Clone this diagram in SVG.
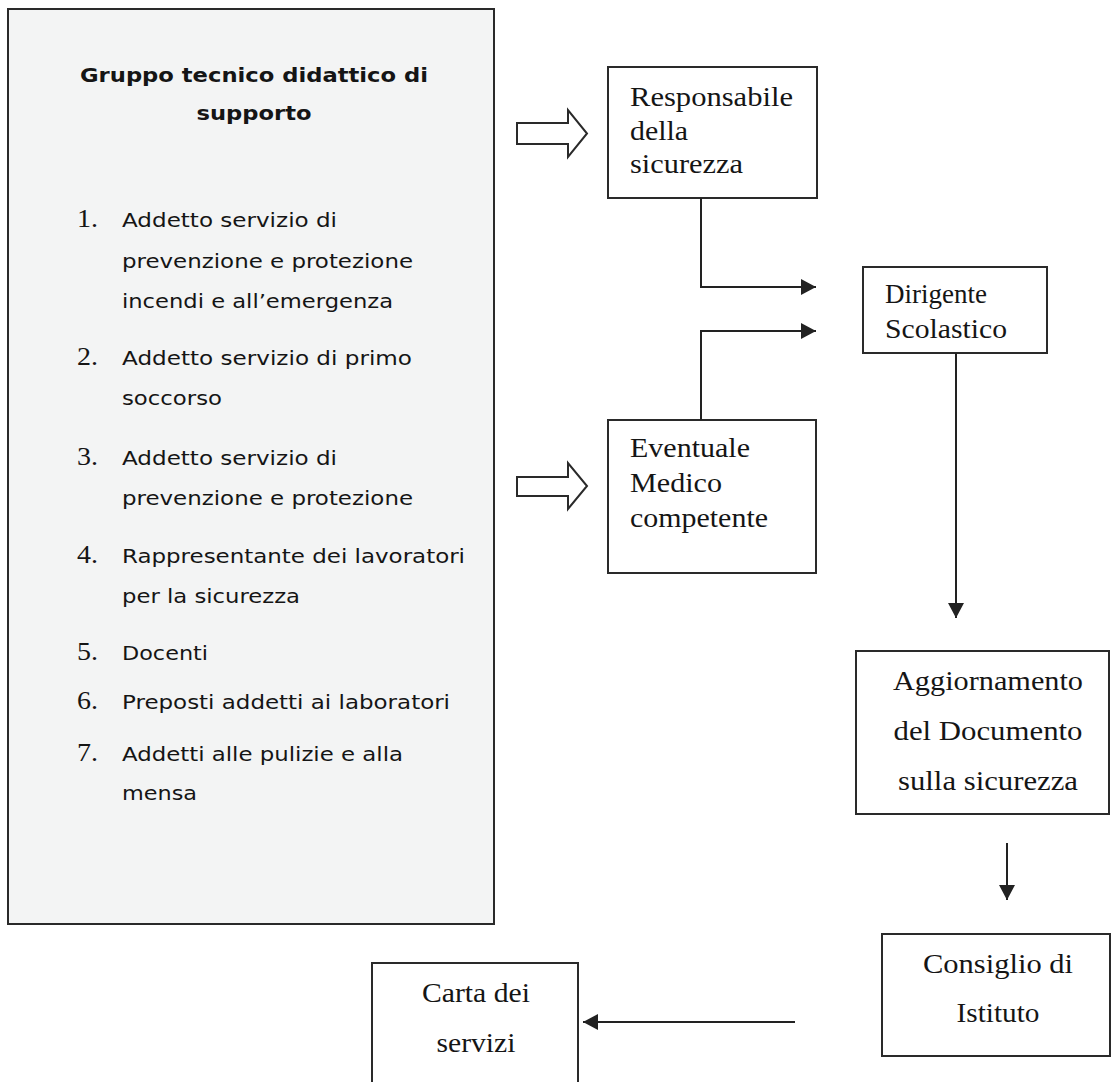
<svg xmlns="http://www.w3.org/2000/svg" width="1111" height="1082" viewBox="0 0 1111 1082">
<style>
.box{fill:#ffffff;stroke:#2a2a2a;stroke-width:2}
.panel{fill:#f3f4f4;stroke:#2a2a2a;stroke-width:2}
.sans{font-family:"DejaVu Sans","Liberation Sans",sans-serif;font-size:20px;fill:#151515}
.bold{font-family:"DejaVu Sans","Liberation Sans",sans-serif;font-size:19px;font-weight:bold;fill:#151515}
.serif{font-family:"Liberation Serif","Times New Roman",serif;font-size:27px;fill:#151515}
.num{font-family:"Liberation Serif","Times New Roman",serif;font-size:25px;fill:#151515}
.conn{fill:none;stroke:#222;stroke-width:2}
.block{fill:#ffffff;stroke:#2a2a2a;stroke-width:2;stroke-linejoin:miter}
</style>
<defs>
<marker id="ah" markerUnits="userSpaceOnUse" markerWidth="15" markerHeight="16" refX="15" refY="8" orient="auto">
<path d="M0,0 L15,8 L0,16 z" fill="#222"/>
</marker>
</defs>
<rect width="1111" height="1082" fill="#ffffff"/>

<g id="gruppo-tecnico">
<rect class="panel" x="8" y="9" width="486" height="915"/>
<text class="bold" x="254" y="82" text-anchor="middle" textLength="348" lengthAdjust="spacingAndGlyphs">Gruppo tecnico didattico di</text>
<text class="bold" x="254" y="120" text-anchor="middle" textLength="115" lengthAdjust="spacingAndGlyphs">supporto</text>
<text class="num" x="77" y="227" textLength="21" lengthAdjust="spacingAndGlyphs">1.</text>
<text class="sans" x="122" y="227" textLength="215" lengthAdjust="spacingAndGlyphs">Addetto servizio di</text>
<text class="sans" x="122" y="268" textLength="291" lengthAdjust="spacingAndGlyphs">prevenzione e protezione</text>
<text class="sans" x="122" y="308" textLength="271" lengthAdjust="spacingAndGlyphs">incendi e all’emergenza</text>
<text class="num" x="77" y="365" textLength="21" lengthAdjust="spacingAndGlyphs">2.</text>
<text class="sans" x="122" y="365" textLength="290" lengthAdjust="spacingAndGlyphs">Addetto servizio di primo</text>
<text class="sans" x="122" y="405" textLength="100" lengthAdjust="spacingAndGlyphs">soccorso</text>
<text class="num" x="77" y="465" textLength="21" lengthAdjust="spacingAndGlyphs">3.</text>
<text class="sans" x="122" y="465" textLength="215" lengthAdjust="spacingAndGlyphs">Addetto servizio di</text>
<text class="sans" x="122" y="505" textLength="291" lengthAdjust="spacingAndGlyphs">prevenzione e protezione</text>
<text class="num" x="77" y="563" textLength="21" lengthAdjust="spacingAndGlyphs">4.</text>
<text class="sans" x="122" y="563" textLength="343" lengthAdjust="spacingAndGlyphs">Rappresentante dei lavoratori</text>
<text class="sans" x="122" y="603" textLength="178" lengthAdjust="spacingAndGlyphs">per la sicurezza</text>
<text class="num" x="77" y="660" textLength="21" lengthAdjust="spacingAndGlyphs">5.</text>
<text class="sans" x="122" y="660" textLength="86" lengthAdjust="spacingAndGlyphs">Docenti</text>
<text class="num" x="77" y="709" textLength="21" lengthAdjust="spacingAndGlyphs">6.</text>
<text class="sans" x="122" y="709" textLength="328" lengthAdjust="spacingAndGlyphs">Preposti addetti ai laboratori</text>
<text class="num" x="77" y="761" textLength="21" lengthAdjust="spacingAndGlyphs">7.</text>
<text class="sans" x="122" y="761" textLength="281" lengthAdjust="spacingAndGlyphs">Addetti alle pulizie e alla</text>
<text class="sans" x="122" y="800" textLength="75" lengthAdjust="spacingAndGlyphs">mensa</text>
</g>

<g id="responsabile">
<rect class="box" x="608" y="67" width="209" height="131"/>
<text class="serif" x="630" y="106" textLength="163" lengthAdjust="spacingAndGlyphs">Responsabile</text>
<text class="serif" x="630" y="140" textLength="58" lengthAdjust="spacingAndGlyphs">della</text>
<text class="serif" x="630" y="173" textLength="113" lengthAdjust="spacingAndGlyphs">sicurezza</text>
</g>

<g id="dirigente">
<rect class="box" x="863" y="267" width="184" height="86"/>
<text class="serif" x="885" y="303" textLength="102" lengthAdjust="spacingAndGlyphs">Dirigente</text>
<text class="serif" x="885" y="338" textLength="122" lengthAdjust="spacingAndGlyphs">Scolastico</text>
</g>

<g id="eventuale">
<rect class="box" x="608" y="420" width="208" height="153"/>
<text class="serif" x="630" y="457" textLength="120" lengthAdjust="spacingAndGlyphs">Eventuale</text>
<text class="serif" x="630" y="492" textLength="92" lengthAdjust="spacingAndGlyphs">Medico</text>
<text class="serif" x="630" y="527" textLength="138" lengthAdjust="spacingAndGlyphs">competente</text>
</g>

<g id="aggiornamento">
<rect class="box" x="856" y="651" width="253" height="163"/>
<text class="serif" x="988" y="690" text-anchor="middle" textLength="190" lengthAdjust="spacingAndGlyphs">Aggiornamento</text>
<text class="serif" x="988" y="740" text-anchor="middle" textLength="189" lengthAdjust="spacingAndGlyphs">del Documento</text>
<text class="serif" x="988" y="790" text-anchor="middle" textLength="180" lengthAdjust="spacingAndGlyphs">sulla sicurezza</text>
</g>

<g id="consiglio">
<rect class="box" x="882" y="934" width="228" height="122"/>
<text class="serif" x="998" y="973" text-anchor="middle" textLength="150" lengthAdjust="spacingAndGlyphs">Consiglio di</text>
<text class="serif" x="998" y="1022" text-anchor="middle" textLength="83" lengthAdjust="spacingAndGlyphs">Istituto</text>
</g>

<g id="carta">
<rect class="box" x="372" y="963" width="206" height="130"/>
<text class="serif" x="476" y="1002" text-anchor="middle" textLength="108" lengthAdjust="spacingAndGlyphs">Carta dei</text>
<text class="serif" x="476" y="1052" text-anchor="middle" textLength="79" lengthAdjust="spacingAndGlyphs">servizi</text>
</g>

<g id="connectors">
<polygon class="block" points="517,123 568,123 568,110 587,133.5 568,157 568,144 517,144"/>
<polygon class="block" points="517,477 568,477 568,463 587,486 568,509 568,496 517,496"/>
<path class="conn" d="M701,198 V287 H816" marker-end="url(#ah)"/>
<path class="conn" d="M701,420 V331 H816" marker-end="url(#ah)"/>
<path class="conn" d="M956,353 V618" marker-end="url(#ah)"/>
<path class="conn" d="M1007,843 V900" marker-end="url(#ah)"/>
<path class="conn" d="M795,1022 H583" marker-end="url(#ah)"/>
</g>
</svg>
